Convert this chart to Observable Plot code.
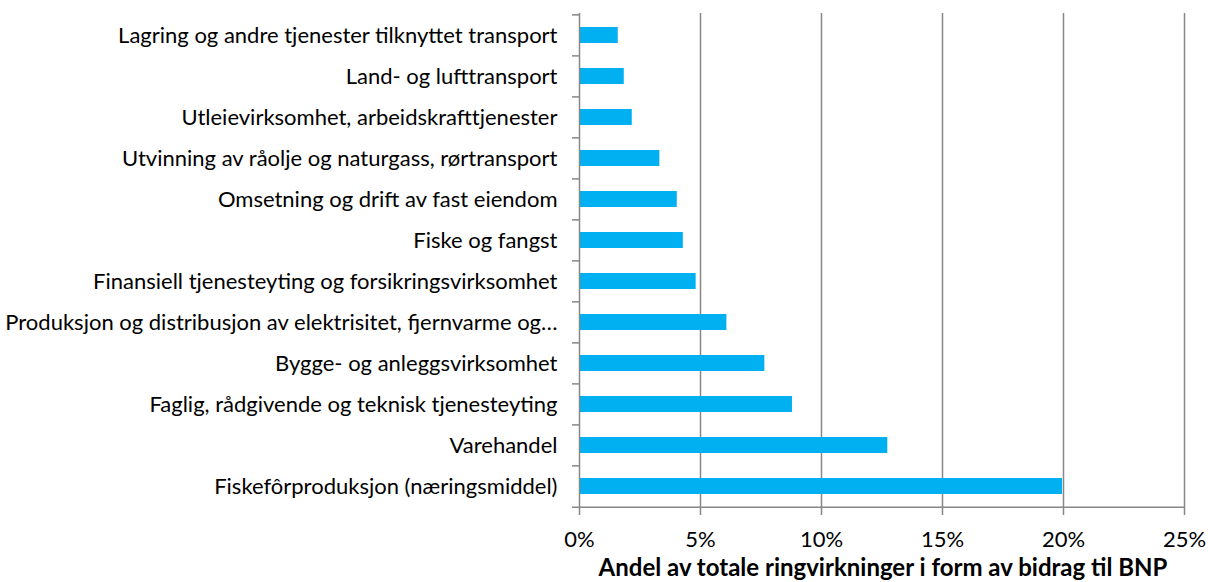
<!DOCTYPE html>
<html>
<head>
<meta charset="utf-8">
<script src="https://cdn.jsdelivr.net/npm/d3@7"></script>
<script src="https://cdn.jsdelivr.net/npm/@observablehq/plot@0.6"></script>
<style>
  body { margin: 0; background: #ffffff; }
</style>
</head>
<body>
<div id="chart"></div>
<script>
// Categories, top to bottom
const categories = [
  "Lagring og andre tjenester tilknyttet transport",
  "Land- og lufttransport",
  "Utleievirksomhet, arbeidskrafttjenester",
  "Utvinning av råolje og naturgass, rørtransport",
  "Omsetning og drift av fast eiendom",
  "Fiske og fangst",
  "Finansiell tjenesteyting og forsikringsvirksomhet",
  "Produksjon og distribusjon av elektrisitet, fjernvarme og…",
  "Bygge- og anleggsvirksomhet",
  "Faglig, rådgivende og teknisk tjenesteyting",
  "Varehandel",
  "Fiskefôrproduksjon (næringsmiddel)"
];
// Share of total ripple effects (fraction)
const values = [0.0160, 0.0185, 0.0218, 0.0332, 0.0404, 0.0429, 0.0482, 0.0609, 0.0766, 0.0880, 0.1274, 0.1996];
const xTicks = [0, 0.05, 0.10, 0.15, 0.20, 0.25];
const axisTitle = "Andel av totale ringvirkninger i form av bidrag til BNP";

const data = categories.map((c, i) => ({category: c, value: values[i]}));

const W = 1208, H = 582, ML = 579, MR = 24, MT = 13, MB = 74;
const gray = "#878787";
const step = (H - MT - MB) / categories.length;
const pxPerUnit = (W - ML - MR) / 0.25;
const tickLen = 7 / pxPerUnit;

const chart = Plot.plot({
  width: W,
  height: H,
  marginLeft: ML,
  marginRight: MR,
  marginTop: MT,
  marginBottom: MB,
  style: {fontFamily: "Lato, sans-serif", background: "#ffffff", color: "#000000"},
  x: {domain: [0, 0.25]},
  y: {domain: categories, paddingInner: 0.61, paddingOuter: 0.305},
  marks: [
    Plot.gridX(xTicks.slice(1), {stroke: gray, strokeOpacity: 1, strokeWidth: 1.5}),
    Plot.barX(data, {y: "category", x: "value", fill: "#00B0F0"}),
    Plot.ruleX([0], {stroke: gray, strokeWidth: 1.5}),
    Plot.ruleY([categories[categories.length - 1]], {dy: step / 2, x1: -tickLen, x2: 0.25, stroke: gray, strokeWidth: 1.5}),
    Plot.ruleY(categories, {dy: -step / 2, x1: -tickLen, x2: 0, stroke: gray, strokeWidth: 1.5}),
    Plot.axisX(xTicks, {tickSize: 7, tickPadding: 16, stroke: gray, strokeWidth: 1.5, fontSize: 22, tickFormat: d3.format(".0%"), label: null}),
    Plot.axisY({tickSize: 0, tickPadding: 22, fontSize: 22, label: null}),
    Plot.text([axisTitle], {frameAnchor: "bottom", dy: 67, dx: 1, fontWeight: "bold", fontSize: 24})
  ]
});
document.getElementById("chart").appendChild(chart);
</script>
</body>
</html>
